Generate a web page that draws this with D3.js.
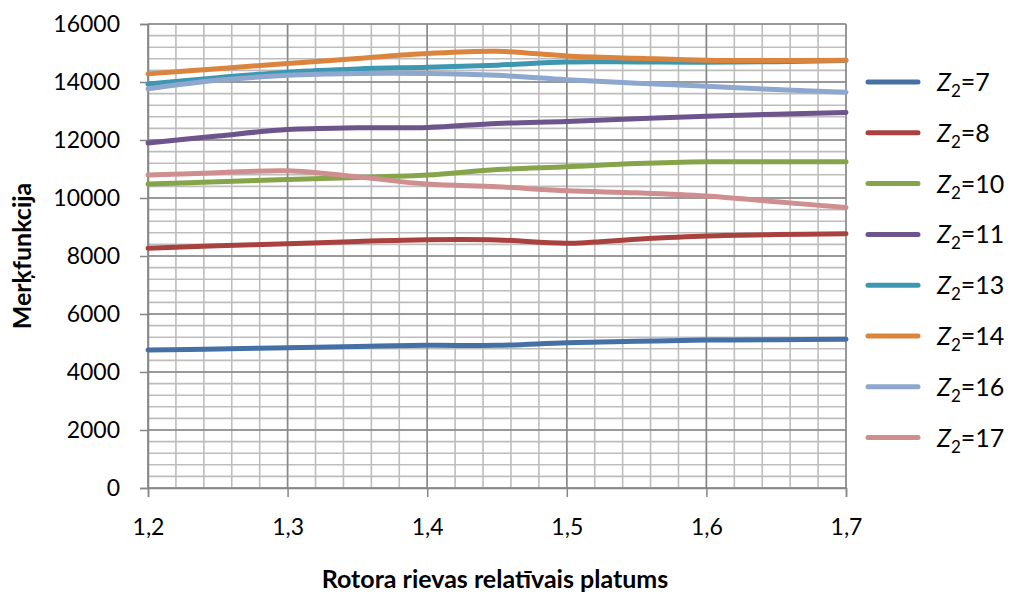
<!DOCTYPE html>
<html>
<head>
<meta charset="utf-8">
<script src="https://cdn.jsdelivr.net/npm/d3@7"></script>
<style>
  html, body { margin: 0; padding: 0; background: #ffffff; }
  svg { display: block; }
  text { font-family: Lato, "Open Sans", sans-serif; fill: #000; }
</style>
</head>
<body>
<svg id="chart" width="1011" height="595"></svg>
<script>
// ---- data ----
const xValues = [1.2, 1.25, 1.3, 1.35, 1.4, 1.45, 1.5, 1.55, 1.6, 1.65, 1.7];
const z7  = [4760, 4790, 4840, 4880, 4920, 4920, 5010, 5060, 5100, 5115, 5127];
const z8  = [8270, 8350, 8420, 8500, 8560, 8555, 8440, 8580, 8690, 8740, 8770];
const z10 = [10480, 10560, 10640, 10710, 10790, 10980, 11080, 11190, 11250, 11250, 11250];
const z11 = [11900, 12140, 12360, 12420, 12430, 12570, 12640, 12730, 12820, 12890, 12950];
const z13 = [13930, 14150, 14340, 14450, 14510, 14580, 14690, 14690, 14680, 14700, 14740];
const z14 = [14280, 14460, 14640, 14810, 14980, 15060, 14900, 14820, 14750, 14740, 14750];
const z16 = [13770, 14060, 14230, 14290, 14290, 14230, 14080, 13960, 13850, 13740, 13650];
const z17 = [10790, 10870, 10940, 10730, 10480, 10390, 10250, 10180, 10070, 9870, 9670];
const seriesNames = ["7", "8", "10", "11", "13", "14", "16", "17"];
const seriesValues = [z7, z8, z10, z11, z13, z14, z16, z17];
const seriesColors = ["#4470a6", "#a9423f", "#86a44a", "#6d548d", "#3d97b1", "#db843d", "#8ea7cf", "#cf8e8f"];
const xTicks = [1.2, 1.3, 1.4, 1.5, 1.6, 1.7];
const yTicks = [0, 2000, 4000, 6000, 8000, 10000, 12000, 14000, 16000];
const xTitle = "Rotora rievas relatīvais platums";
const yTitle = "Merķfunkcija";

// ---- layout ----
const svg = d3.select("#chart");
const plot = { left: 148, right: 846, top: 24, bottom: 488 };
const x = d3.scaleLinear().domain([1.2, 1.7]).range([plot.left, plot.right]);
const y = d3.scaleLinear().domain([0, 16000]).range([plot.bottom, plot.top]);

// minor grid
const minorX = d3.range(1.2, 1.7001, 0.02).map(v => +v.toFixed(2));
const minorY = d3.range(0, 16001, 400);
const grid = svg.append("g");
grid.selectAll(".mx").data(minorX).join("line")
  .attr("x1", d => x(d)).attr("x2", d => x(d))
  .attr("y1", plot.top).attr("y2", plot.bottom)
  .attr("stroke", "#bdbdbd").attr("stroke-width", 1.6);
grid.selectAll(".my").data(minorY).join("line")
  .attr("x1", plot.left).attr("x2", plot.right)
  .attr("y1", d => y(d)).attr("y2", d => y(d))
  .attr("stroke", "#bdbdbd").attr("stroke-width", 1.6);
// major grid
grid.selectAll(".Mx").data(xTicks).join("line")
  .attr("x1", d => x(d)).attr("x2", d => x(d))
  .attr("y1", plot.top).attr("y2", plot.bottom)
  .attr("stroke", "#878787").attr("stroke-width", 1.5);
grid.selectAll(".My").data(yTicks).join("line")
  .attr("x1", plot.left).attr("x2", plot.right)
  .attr("y1", d => y(d)).attr("y2", d => y(d))
  .attr("stroke", "#878787").attr("stroke-width", 1.5);

// axes
const yAxis = d3.axisLeft(y).tickValues(yTicks).tickSize(8).tickPadding(20).tickFormat(d3.format("d"));
const gy = svg.append("g").attr("transform", `translate(${plot.left},0)`).call(yAxis);
gy.select(".domain").attr("stroke", "#878787").attr("stroke-width", 1.5);
gy.selectAll(".tick line").attr("stroke", "#878787").attr("stroke-width", 1.5);
gy.selectAll(".tick text").attr("font-size", 23).attr("font-family", "Lato, 'Open Sans', sans-serif").attr("fill", "#000");

const xAxis = d3.axisBottom(x).tickValues(xTicks).tickSize(9).tickPadding(22)
  .tickFormat(d => d3.format(".1f")(d).replace(".", ","));
const gx = svg.append("g").attr("transform", `translate(0,${plot.bottom})`).call(xAxis);
gx.select(".domain").attr("stroke", "#878787").attr("stroke-width", 1.5);
gx.selectAll(".tick line").attr("stroke", "#878787").attr("stroke-width", 1.5);
gx.selectAll(".tick text").attr("font-size", 23).attr("font-family", "Lato, 'Open Sans', sans-serif").attr("fill", "#000");

// lines
const line = d3.line()
  .x((d, i) => x(xValues[i]))
  .y(d => y(d))
  .curve(d3.curveCatmullRom.alpha(0.5));
svg.append("g").selectAll("path").data(seriesValues).join("path")
  .attr("d", d => line(d))
  .attr("fill", "none")
  .attr("stroke", (d, i) => seriesColors[i])
  .attr("stroke-width", 5)
  .attr("stroke-linecap", "round")
  .attr("stroke-linejoin", "round");

// titles
svg.append("text")
  .attr("x", 495).attr("y", 588)
  .attr("text-anchor", "middle")
  .attr("font-size", 25).attr("font-weight", "bold")
  .text(xTitle);
svg.append("text")
  .attr("transform", `translate(31,${(plot.top + plot.bottom) / 2}) rotate(-90)`)
  .attr("text-anchor", "middle")
  .attr("font-size", 25).attr("font-weight", "bold")
  .text(yTitle);

// legend
const legend = svg.append("g");
const legendTop = 82, legendStep = 50.8;
seriesNames.forEach((name, i) => {
  const ly = legendTop + i * legendStep;
  legend.append("line")
    .attr("x1", 868).attr("x2", 918).attr("y1", ly).attr("y2", ly)
    .attr("stroke", seriesColors[i]).attr("stroke-width", 5).attr("stroke-linecap", "round");
  const t = legend.append("text").attr("x", 937).attr("y", ly + 9).attr("font-size", 25);
  t.append("tspan").attr("font-style", "italic").text("Z");
  t.append("tspan").attr("font-size", 17).attr("dy", 6).text("2");
  t.append("tspan").attr("dy", -6).text("=" + name);
});
</script>
</body>
</html>
